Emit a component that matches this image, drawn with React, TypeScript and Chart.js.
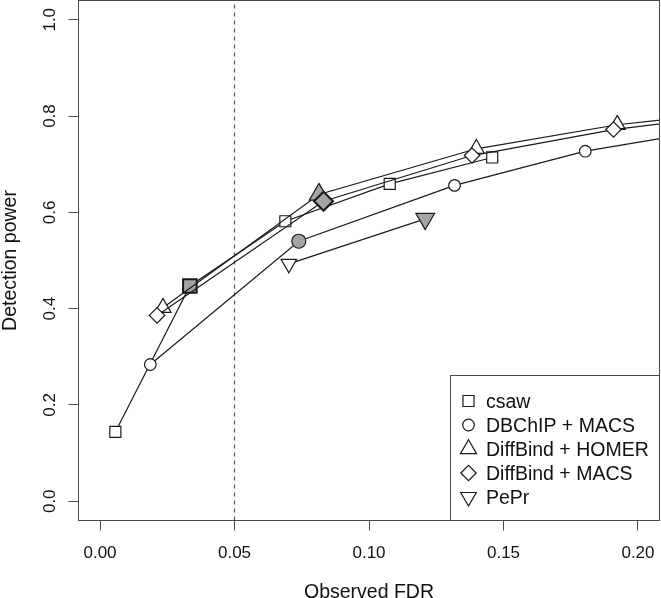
import React, { useEffect, useRef } from "react";
import { Chart, registerables } from "chart.js";

Chart.register(...registerables);

// ---------- data ----------
const SERIES_NAMES = ["csaw", "DBChIP + MACS", "DiffBind + HOMER", "DiffBind + MACS", "PePr"];

const CSAW_FDR = [0.0057, 0.0334, 0.0689, 0.1077, 0.1458];
const CSAW_POWER = [0.144, 0.447, 0.5815, 0.659, 0.714];

const DBCHIP_FDR = [0.0187, 0.0739, 0.1318, 0.1804, 0.24];
const DBCHIP_POWER = [0.284, 0.54, 0.656, 0.727, 0.783];

const HOMER_FDR = [0.0234, 0.0814, 0.1399, 0.1923, 0.25];
const HOMER_POWER = [0.402, 0.637, 0.732, 0.782, 0.816];

const MACS_FDR = [0.0212, 0.0831, 0.1383, 0.1909, 0.25];
const MACS_POWER = [0.386, 0.623, 0.718, 0.772, 0.812];

const PEPR_FDR = [0.0702, 0.1209];
const PEPR_POWER = [0.493, 0.5865];

// index of the point obtained at nominal FDR 0.05 (drawn filled)
const NOMINAL_INDEX = [1, 1, 1, 1, 1];

const X_TICKS = [0, 0.05, 0.1, 0.15, 0.2];
const Y_TICKS = [0, 0.2, 0.4, 0.6, 0.8, 1.0];
const FDR_THRESHOLD = 0.05;

const X_TITLE = "Observed FDR";
const Y_TITLE = "Detection power";

// ---------- styles ----------
const LINE = "#1a1a1a";
const AXIS = "#4a4a4a";
const TEXT = "#111111";
const GREY = "#a4a4a4";
const FONT_FAMILY = '"Liberation Sans", Arial, Helvetica, sans-serif';
const TICK_FONT = 17;
const LABEL_FONT = 19.5;

type Sym = { style: string; rot: number; r: number; rBig: number; bwBig: number };
const SYMS: Sym[] = [
  { style: "rect", rot: 0, r: 7.8, rBig: 9.6, bwBig: 2 },
  { style: "circle", rot: 0, r: 5.8, rBig: 7, bwBig: 1.2 },
  { style: "triangle", rot: 0, r: 9.3, rBig: 11.2, bwBig: 1.2 },
  { style: "rectRot", rot: 0, r: 7.7, rBig: 9.5, bwBig: 2 },
  { style: "triangle", rot: 180, r: 9, rBig: 10.8, bwBig: 1.2 },
];

function makeDataset(i: number, xs: number[], ys: number[]) {
  const s = SYMS[i];
  const k = NOMINAL_INDEX[i];
  return {
    label: SERIES_NAMES[i],
    data: xs.map((x, j) => ({ x, y: ys[j] })),
    borderColor: LINE,
    borderWidth: 1.2,
    tension: 0,
    pointStyle: s.style,
    pointRotation: s.rot,
    pointRadius: xs.map((_, j) => (j === k ? s.rBig : s.r)),
    pointBackgroundColor: xs.map((_, j) => (j === k ? GREY : "#ffffff")),
    pointBorderColor: LINE,
    pointBorderWidth: xs.map((_, j) => (j === k ? s.bwBig : 1.2)),
    order: 5 - i,
  };
}

function drawSymbol(ctx: CanvasRenderingContext2D, s: Sym, cx: number, cy: number) {
  const r = s.r;
  ctx.beginPath();
  if (s.style === "rect") {
    const h = r * Math.SQRT1_2;
    ctx.rect(cx - h, cy - h, 2 * h, 2 * h);
  } else if (s.style === "circle") {
    ctx.arc(cx, cy, r, 0, Math.PI * 2);
  } else if (s.style === "rectRot") {
    ctx.moveTo(cx - r, cy);
    ctx.lineTo(cx, cy - r);
    ctx.lineTo(cx + r, cy);
    ctx.lineTo(cx, cy + r);
    ctx.closePath();
  } else {
    let a = (s.rot * Math.PI) / 180;
    ctx.moveTo(cx + Math.sin(a) * r, cy - Math.cos(a) * r);
    a += (2 * Math.PI) / 3;
    ctx.lineTo(cx + Math.sin(a) * r, cy - Math.cos(a) * r);
    a += (2 * Math.PI) / 3;
    ctx.lineTo(cx + Math.sin(a) * r, cy - Math.cos(a) * r);
    ctx.closePath();
  }
  ctx.fillStyle = "#ffffff";
  ctx.fill();
  ctx.strokeStyle = LINE;
  ctx.lineWidth = 1.2;
  ctx.stroke();
}

const overlayPlugin = {
  id: "overlay",
  afterDraw(chart: any) {
    const { ctx, chartArea: a, scales } = chart;
    const xs = scales.x;
    const ys = scales.y;
    ctx.save();

    // plot box
    ctx.strokeStyle = AXIS;
    ctx.lineWidth = 1;
    ctx.strokeRect(a.left, a.top, a.right - a.left, a.bottom - a.top);

    // tick labels
    ctx.fillStyle = TEXT;
    ctx.font = `${TICK_FONT}px ${FONT_FAMILY}`;
    ctx.textAlign = "center";
    ctx.textBaseline = "alphabetic";
    X_TICKS.forEach((v) => {
      ctx.fillText(v.toFixed(2), xs.getPixelForValue(v), a.bottom + 37.2);
    });
    Y_TICKS.forEach((v) => {
      ctx.save();
      ctx.translate(a.left - 23.5, ys.getPixelForValue(v));
      ctx.rotate(-Math.PI / 2);
      ctx.fillText(v.toFixed(1), 0, 0);
      ctx.restore();
    });

    // axis titles
    ctx.font = `${LABEL_FONT}px ${FONT_FAMILY}`;
    ctx.fillText(X_TITLE, (a.left + a.right) / 2, a.bottom + 77);
    ctx.save();
    ctx.translate(a.left - 63, (a.top + a.bottom) / 2);
    ctx.rotate(-Math.PI / 2);
    ctx.fillText(Y_TITLE, 0, 0);
    ctx.restore();

    // legend
    const lx = 450.5;
    const ly = 375.5;
    ctx.fillStyle = "#ffffff";
    ctx.fillRect(lx, ly, a.right - lx, a.bottom - ly);
    ctx.strokeStyle = AXIS;
    ctx.lineWidth = 1;
    ctx.strokeRect(lx, ly, a.right - lx, a.bottom - ly);
    SERIES_NAMES.forEach((name, i) => {
      const cy = ly + 25.5 + i * 24;
      drawSymbol(ctx, SYMS[i], lx + 18, cy);
      ctx.fillStyle = TEXT;
      ctx.font = `${LABEL_FONT}px ${FONT_FAMILY}`;
      ctx.textAlign = "left";
      ctx.fillText(name, lx + 35.5, cy + 6.5);
    });

    ctx.restore();
  },
};

export default function App() {
  const ref = useRef<HTMLCanvasElement | null>(null);

  useEffect(() => {
    if (!ref.current) return;
    const chart = new Chart(ref.current, {
      type: "line",
      data: {
        datasets: [
          {
            label: "threshold",
            data: [
              { x: FDR_THRESHOLD, y: -0.04 },
              { x: FDR_THRESHOLD, y: 1.04 },
            ],
            borderColor: "#5a5a5a",
            borderWidth: 1.2,
            borderDash: [4, 4],
            pointRadius: 0,
            order: 10,
          } as any,
          makeDataset(0, CSAW_FDR, CSAW_POWER),
          makeDataset(1, DBCHIP_FDR, DBCHIP_POWER),
          makeDataset(2, HOMER_FDR, HOMER_POWER),
          makeDataset(3, MACS_FDR, MACS_POWER),
          makeDataset(4, PEPR_FDR, PEPR_POWER),
        ],
      },
      options: {
        animation: false,
        responsive: false,
        maintainAspectRatio: false,
        events: [],
        layout: { autoPadding: false, padding: { top: 0.5, right: 1.5, left: 0, bottom: 0 } },
        plugins: {
          legend: { display: false },
          tooltip: { enabled: false },
          title: { display: false },
        },
        scales: {
          x: {
            type: "linear",
            position: "bottom",
            min: -0.008,
            max: 0.208,
            afterBuildTicks: (s: any) => {
              s.ticks = X_TICKS.map((v) => ({ value: v }));
            },
            afterFit: (s: any) => {
              s.height = 77.5;
            },
            ticks: { display: false },
            grid: {
              display: true,
              drawOnChartArea: false,
              drawTicks: true,
              tickLength: 10,
              color: AXIS,
              lineWidth: 1,
            },
            border: { display: false },
          },
          y: {
            type: "linear",
            position: "left",
            min: -0.04,
            max: 1.04,
            afterBuildTicks: (s: any) => {
              s.ticks = Y_TICKS.map((v) => ({ value: v }));
            },
            afterFit: (s: any) => {
              s.width = 78.5;
            },
            ticks: { display: false },
            grid: {
              display: true,
              drawOnChartArea: false,
              drawTicks: true,
              tickLength: 10,
              color: AXIS,
              lineWidth: 1,
            },
            border: { display: false },
          },
        },
      },
      plugins: [overlayPlugin],
    } as any);
    return () => chart.destroy();
  }, []);

  return (
    <div style={{ position: "absolute", left: 0, top: 0, width: 661, height: 598, background: "#fff" }}>
      <canvas ref={ref} width={661} height={598} style={{ display: "block", width: 661, height: 598 }} />
    </div>
  );
}
